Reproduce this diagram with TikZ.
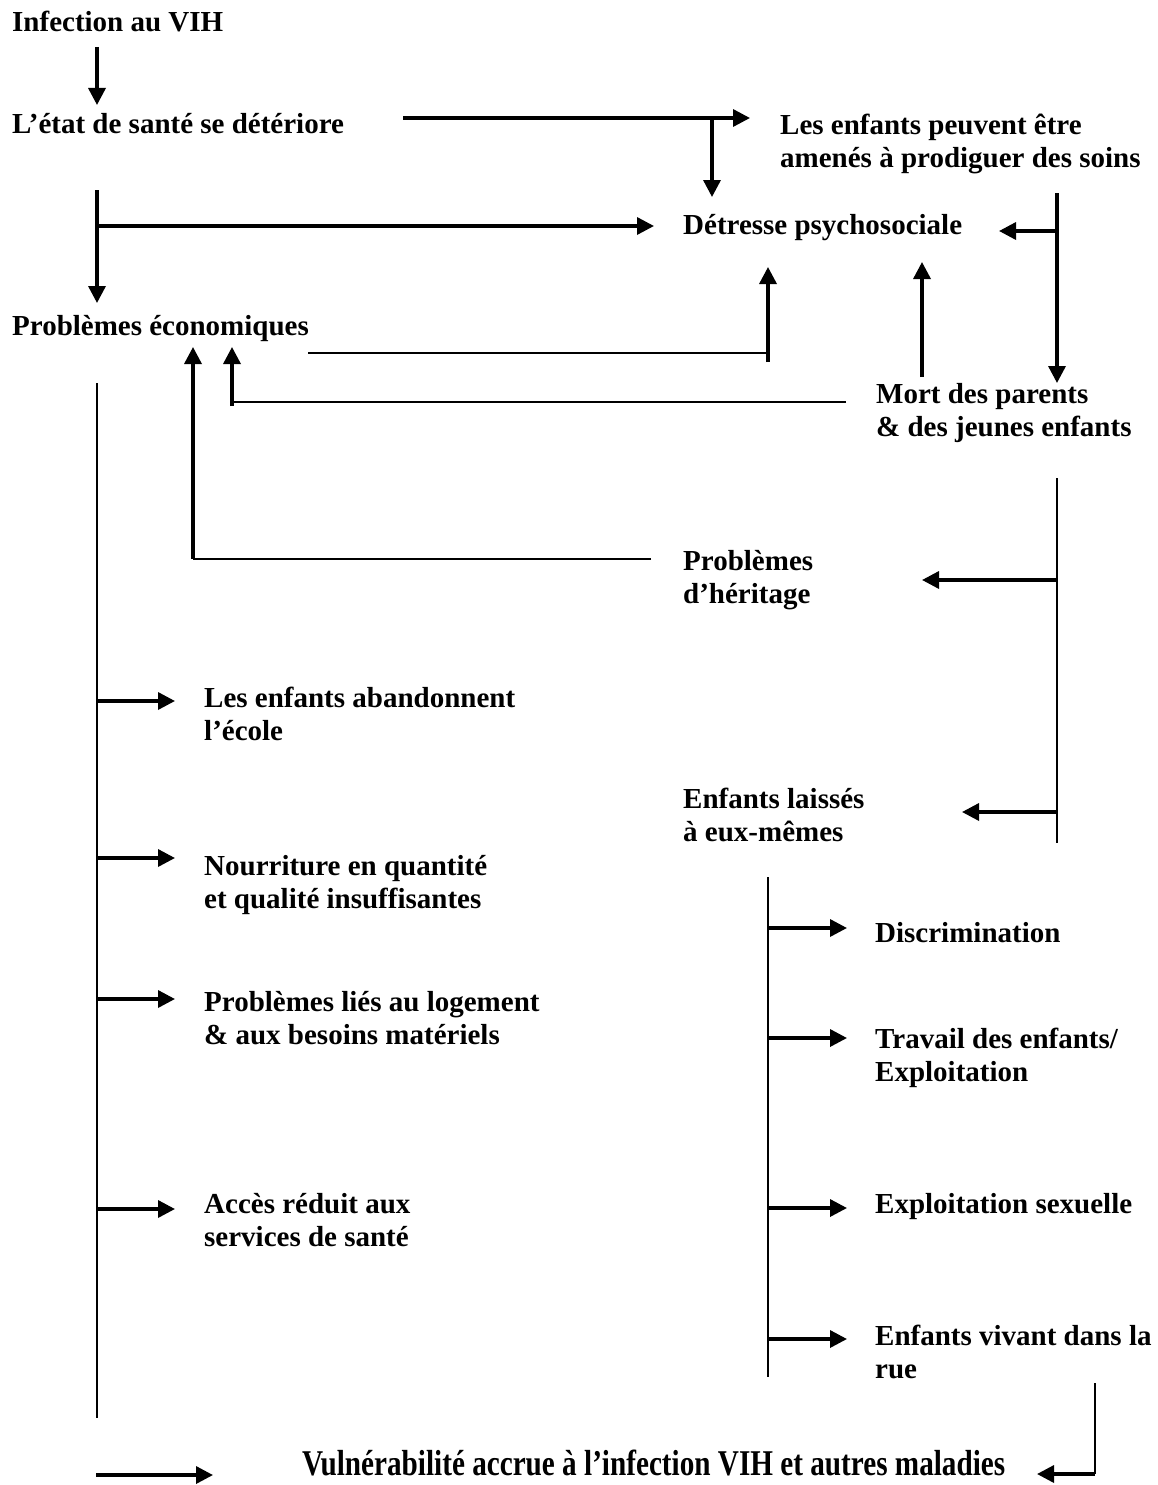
\documentclass[tikz,border=0pt]{standalone}
\usepackage{fontspec}
\setmainfont{Liberation Serif}
\usetikzlibrary{arrows.meta}
\newcommand\mlines[1]{\begin{tabular}[t]{@{}l@{}}#1\end{tabular}}
\begin{document}
\begin{tikzpicture}[x=1pt,y=-1pt,
  lbl/.style={inner sep=0pt, anchor=base west, font=\fontsize{29}{33}\selectfont\bfseries},
  thk/.style={line width=3.4pt},
  thn/.style={line width=1.7pt},
  arr/.style={thk,-{Triangle[length=17pt,width=17pt]}},
]
\useasboundingbox (0,0) rectangle (1158,1485);

% text nodes
\node[lbl] (inf) at (12,32) {Infection au VIH};
\node[lbl] (etat) at (12,133) {L’état de santé se détériore};
\node[lbl] (soins) at (780,135) {\mlines{Les enfants peuvent être\\amenés à prodiguer des soins}};
\node[lbl] (detr) at (683,234) {Détresse psychosociale};
\node[lbl] (econ) at (12,335) {Problèmes économiques};
\node[lbl] (mort) at (876,403) {\mlines{Mort des parents\\\& des jeunes enfants}};
\node[lbl] (herit) at (683,570) {\mlines{Problèmes\\d’héritage}};
\node[lbl] (ecole) at (204,707) {\mlines{Les enfants abandonnent\\l’école}};
\node[lbl] (laisse) at (683,808) {\mlines{Enfants laissés\\à eux-mêmes}};
\node[lbl] (nourr) at (204,875) {\mlines{Nourriture en quantité\\et qualité insuffisantes}};
\node[lbl] (discr) at (875,942) {Discrimination};
\node[lbl] (logem) at (204,1011) {\mlines{Problèmes liés au logement\\\& aux besoins matériels}};
\node[lbl] (trav) at (875,1048) {\mlines{Travail des enfants/\\Exploitation}};
\node[lbl] (acces) at (204,1213) {\mlines{Accès réduit aux\\services de santé}};
\node[lbl] (sexu) at (875,1213) {Exploitation sexuelle};
\node[lbl] (rue) at (875,1345) {\mlines{Enfants vivant dans la\\rue}};
\node[lbl] (vuln) at (302,1475) {\resizebox{703pt}{1.25\height}{Vulnérabilité accrue à l’infection VIH et autres maladies}};

% coordinates
\coordinate (a1) at (97,47);   \coordinate (a2) at (97,105);
\coordinate (b1) at (403,118); \coordinate (b2) at (750,118);
\coordinate (c1) at (712,118); \coordinate (c2) at (712,197);
\coordinate (d1) at (97,190);  \coordinate (d2) at (97,303);
\coordinate (e1) at (97,226);  \coordinate (e2) at (654,226);
\coordinate (f1) at (1057,193); \coordinate (f2) at (1057,383);
\coordinate (g1) at (1057,231); \coordinate (g2) at (999,231);
\coordinate (h1) at (308,353); \coordinate (h2) at (768,353);
\coordinate (h3) at (768,362); \coordinate (h4) at (768,267);
\coordinate (i1) at (922,377); \coordinate (i2) at (922,262);
\coordinate (j1) at (846,402); \coordinate (j2) at (232,402);
\coordinate (j3) at (232,406); \coordinate (j4) at (232,347);
\coordinate (k1) at (651,559); \coordinate (k2) at (193,559);
\coordinate (k3) at (193,347);
\coordinate (l1) at (97,383);  \coordinate (l2) at (97,1418);
\coordinate (m1) at (1057,478); \coordinate (m2) at (1057,843);
\coordinate (n1) at (768,877); \coordinate (n2) at (768,1377);
\coordinate (p1) at (96,1475); \coordinate (p2) at (213,1475);
\coordinate (q1) at (1095,1383); \coordinate (q2) at (1095,1474); \coordinate (q3) at (1037,1474);

% connectors
\draw[arr] (a1) -- (a2);
\draw[arr] (b1) -- (b2);
\draw[arr] (c1) -- (c2);
\draw[arr] (d1) -- (d2);
\draw[arr] (e1) -- (e2);
\draw[arr] (f1) -- (f2);
\draw[arr] (g1) -- (g2);
\draw[thn] (h1) -- (h2);
\draw[arr] (h3) -- (h4);
\draw[arr] (i1) -- (i2);
\draw[thn] (j1) -- (j2);
\draw[arr] (j3) -- (j4);
\draw[thn] (k1) -- (k2);
\draw[arr] (k2) -- (k3);
\draw[thn] (l1) -- (l2);
\draw[thn] (m1) -- (m2);
\draw[arr] (1057,580) -- (922,580);
\draw[arr] (1057,812) -- (962,812);
\foreach \yy in {701,858,999,1209} \draw[arr] (97,\yy) -- (175,\yy);
\draw[thn] (n1) -- (n2);
\foreach \yy in {928,1038,1208,1339} \draw[arr] (768,\yy) -- (847,\yy);
\draw[arr] (p1) -- (p2);
\draw[thn] (q1) -- (q2);
\draw[arr] (q2) -- (q3);
\end{tikzpicture}
\end{document}
